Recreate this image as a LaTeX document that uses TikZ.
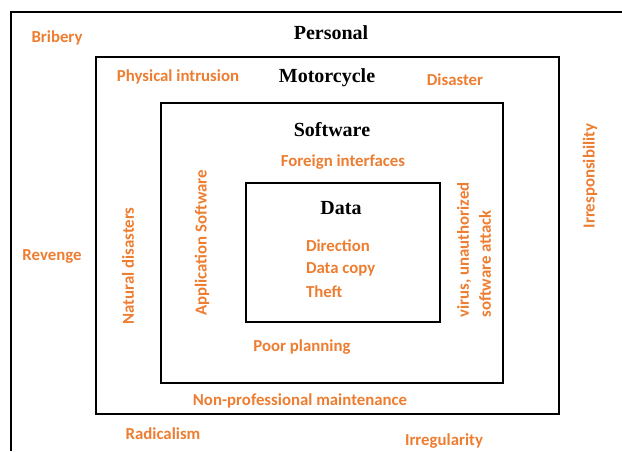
\documentclass[tikz,border=0pt]{standalone}
\usepackage{fontspec}
\setmainfont{Liberation Serif}
\newfontfamily\threatfont{Carlito}
\definecolor{threat}{HTML}{ED7D31}

\begin{document}
\begin{tikzpicture}[x=1pt,y=-1pt,inner sep=0pt,outer sep=0pt,line width=1.8pt,
layer/.style={draw,rectangle,line width=1.8pt},
title/.style={font=\fontsize{20}{22}\selectfont\bfseries},
threat/.style={text=threat,font=\threatfont\fontsize{16.8}{22}\selectfont\bfseries}]

\useasboundingbox (0,0) rectangle (622,451);
% outer frame, open to the right and below
\coordinate (outerSW) at (11,451);
\coordinate (outerNW) at (11,12);
\coordinate (outerNE) at (622,12);
\draw (outerSW) -- (outerNW) -- (outerNE);

% nested layers
\draw (327.5,235.5) node[layer,minimum width=463pt,minimum height=357pt] (motorcycle) {};
\draw (332,243) node[layer,minimum width=342pt,minimum height=280pt] (software) {};
\draw (343,252.5) node[layer,minimum width=194pt,minimum height=139pt] (data) {};

% layer titles
\draw (331,33) node[title] (personalT) {Personal};
\draw (327,78) node[title] (motorcycleT) {Motorcycle};
\draw (332,130) node[title] (softwareT) {Software};
\draw (341,208) node[title] (dataT) {Data};

% threats
\draw (57,38) node[threat] (bribery) {Bribery};
\draw (52,256) node[threat] (revenge) {Revenge};
\draw (163,434) node[threat] (radicalism) {Radicalism};
\draw (444,441) node[threat] (irregularity) {Irregularity};
\draw (590,176) node[threat,rotate=90] (irresp) {Irresponsibility};

\draw (178,77) node[threat] (intrusion) {Physical intrusion};
\draw (455,80) node[threat] (disaster) {Disaster};
\draw (128,266) node[threat,rotate=90] (natural) {Natural disasters};
\draw (300,401) node[threat] (maintenance) {Non-professional maintenance};

\draw (343,162) node[threat] (foreign) {Foreign interfaces};
\draw (202,243) node[threat,rotate=90] (appsw) {Application Software};
\draw (474,250) node[threat,rotate=90,align=left] (virus) {virus, unauthorized\\software attack};
\draw (302,347) node[threat] (planning) {Poor planning};

\draw (306,246) node[threat,anchor=west] (direction) {Direction};
\draw (306,269) node[threat,anchor=west] (copy) {Data copy};
\draw (306,292) node[threat,anchor=west] (theft) {Theft};
\end{tikzpicture}
\end{document}
